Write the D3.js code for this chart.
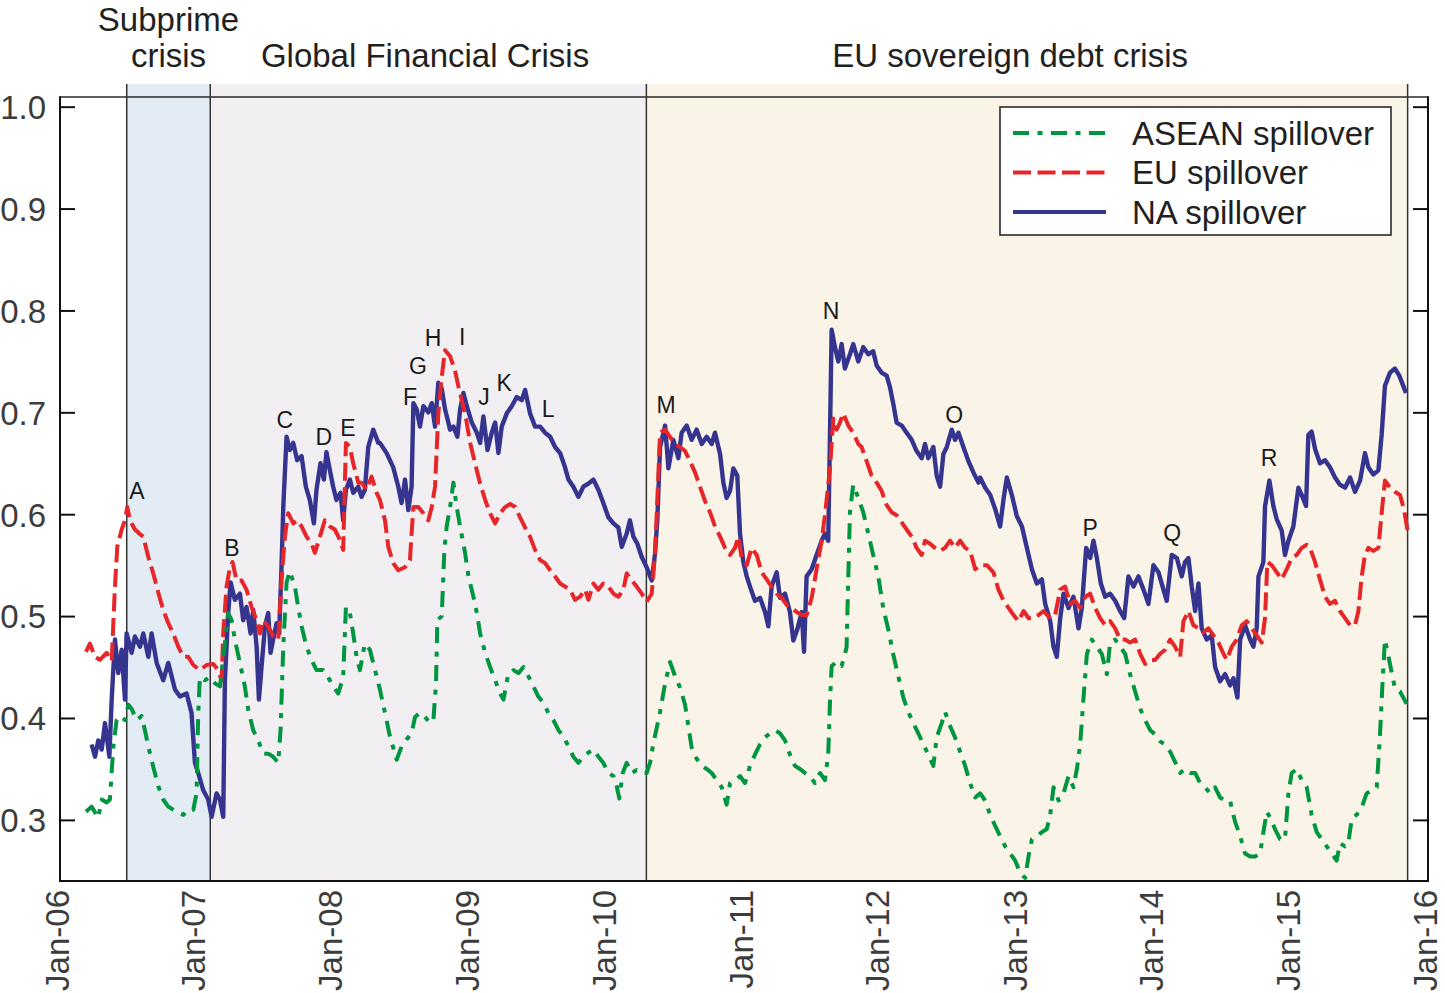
<!DOCTYPE html>
<html><head><meta charset="utf-8">
<script src="https://cdn.jsdelivr.net/npm/d3@7"></script>
<style>
html,body{margin:0;padding:0;background:#fff;}
svg{display:block;font-family:"Liberation Sans",Arial,Helvetica,sans-serif;}
</style></head><body>
<svg id="chart" width="1445" height="993"></svg>
<script>
// ---------------- DATA ----------------
const yTickValues = [0.3, 0.4, 0.5, 0.6, 0.7, 0.8, 0.9, 1.0];
const xTickYears = [2006, 2007, 2008, 2009, 2010, 2011, 2012, 2013, 2014, 2015, 2016];
const seriesNames = ["ASEAN spillover", "EU spillover", "NA spillover"];

// crisis periods (decimal years)
const periodNames = ["Subprime crisis", "Global Financial Crisis", "EU sovereign debt crisis"];
const periodStart = [2006.488, 2007.099, 2010.286];
const periodEnd   = [2007.099, 2010.286, 2015.851];

// event letters: [label, decimal year, value]
const events = [
  ["A",2006.563,0.623],["B",2007.257,0.567],["C",2007.645,0.693],["D",2007.930,0.676],
  ["E",2008.105,0.685],["F",2008.558,0.715],["G",2008.617,0.746],["H",2008.727,0.773],
  ["I",2008.939,0.774],["J",2009.099,0.715],["K",2009.246,0.729],["L",2009.567,0.704],
  ["M",2010.430,0.707],["N",2011.636,0.800],["O",2012.535,0.698],["P",2013.529,0.587],
  ["Q",2014.129,0.582],["R",2014.838,0.655]
];

// NA spillover [decimal year, value]
const naSeries = [
[2006.231,0.374],[2006.256,0.362],[2006.280,0.378],[2006.305,0.369],[2006.329,0.395],[2006.361,0.362],[2006.378,0.418],[2006.402,0.477],[2006.426,0.444],[2006.451,0.467],[2006.475,0.418],[2006.487,0.483],[2006.524,0.464],[2006.548,0.480],[2006.585,0.470],[2006.609,0.483],[2006.646,0.460],[2006.670,0.483],[2006.707,0.454],[2006.755,0.437],[2006.792,0.454],[2006.841,0.428],[2006.877,0.421],[2006.926,0.424],[2006.962,0.405],[2006.987,0.356],[2007.011,0.346],[2007.048,0.329],[2007.084,0.320],[2007.109,0.303],[2007.145,0.326],[2007.170,0.320],[2007.194,0.303],[2007.206,0.437],[2007.230,0.503],[2007.248,0.533],[2007.279,0.516],[2007.316,0.522],[2007.340,0.496],[2007.364,0.509],[2007.394,0.483],[2007.413,0.506],[2007.438,0.470],[2007.455,0.418],[2007.474,0.450],[2007.499,0.490],[2007.523,0.503],[2007.540,0.464],[2007.559,0.477],[2007.584,0.493],[2007.603,0.483],[2007.620,0.548],[2007.633,0.607],[2007.657,0.676],[2007.681,0.663],[2007.706,0.670],[2007.735,0.653],[2007.767,0.657],[2007.798,0.627],[2007.827,0.614],[2007.857,0.591],[2007.876,0.624],[2007.905,0.650],[2007.930,0.634],[2007.949,0.661],[2007.974,0.643],[2007.998,0.627],[2008.022,0.614],[2008.052,0.621],[2008.071,0.594],[2008.091,0.624],[2008.120,0.634],[2008.144,0.621],[2008.181,0.627],[2008.205,0.617],[2008.229,0.624],[2008.254,0.666],[2008.290,0.683],[2008.327,0.670],
[2008.339,0.670],[2008.388,0.660],[2008.436,0.646],[2008.473,0.627],[2008.497,0.611],[2008.522,0.634],[2008.546,0.604],[2008.570,0.627],[2008.583,0.709],[2008.607,0.703],[2008.631,0.686],[2008.656,0.706],[2008.692,0.700],[2008.717,0.709],[2008.741,0.686],[2008.765,0.729],[2008.790,0.723],[2008.814,0.703],[2008.851,0.683],[2008.875,0.686],[2008.904,0.676],[2008.924,0.703],[2008.948,0.719],[2008.973,0.706],[2009.009,0.690],[2009.046,0.680],[2009.070,0.670],[2009.094,0.696],[2009.124,0.663],[2009.155,0.680],[2009.180,0.690],[2009.204,0.660],[2009.228,0.686],[2009.265,0.699],[2009.301,0.706],[2009.338,0.715],[2009.375,0.712],[2009.399,0.722],[2009.435,0.699],[2009.472,0.686],[2009.509,0.686],[2009.545,0.680],[2009.582,0.676],[2009.618,0.666],[2009.655,0.660],[2009.691,0.646],[2009.716,0.634],[2009.752,0.627],[2009.789,0.617],[2009.825,0.627],[2009.862,0.630],[2009.898,0.634],[2009.935,0.624],[2009.971,0.611],[2010.008,0.597],[2010.045,0.591],[2010.081,0.587],[2010.106,0.568],[2010.142,0.581],[2010.166,0.594],[2010.191,0.578],[2010.220,0.571],[2010.252,0.558],[2010.288,0.548],[2010.325,0.535],[2010.349,0.561],[2010.366,0.594],
[2010.386,0.666],[2010.423,0.687],[2010.447,0.645],[2010.483,0.673],[2010.520,0.655],[2010.544,0.680],[2010.581,0.687],[2010.617,0.673],[2010.654,0.683],[2010.691,0.669],[2010.727,0.676],[2010.764,0.669],[2010.788,0.680],[2010.825,0.659],[2010.849,0.631],[2010.873,0.616],[2010.898,0.623],[2010.922,0.645],[2010.951,0.638],[2010.971,0.581],[2010.995,0.553],[2011.020,0.539],[2011.044,0.529],[2011.080,0.515],[2011.117,0.518],[2011.154,0.504],[2011.178,0.490],[2011.202,0.529],[2011.239,0.543],[2011.263,0.518],[2011.300,0.522],[2011.336,0.504],[2011.361,0.476],[2011.390,0.487],[2011.422,0.504],[2011.439,0.465],[2011.458,0.539],[2011.495,0.546],[2011.531,0.560],[2011.568,0.574],[2011.592,0.581],[2011.616,0.574],[2011.629,0.680],[2011.641,0.781],[2011.665,0.764],[2011.690,0.750],[2011.714,0.767],[2011.738,0.743],[2011.775,0.757],[2011.799,0.767],[2011.836,0.750],[2011.872,0.764],[2011.909,0.757],[2011.945,0.760],[2011.970,0.746],[2012.006,0.739],[2012.043,0.736],[2012.067,0.725],[2012.092,0.708],[2012.116,0.690],[2012.153,0.687],[2012.189,0.680],[2012.226,0.673],[2012.262,0.662],[2012.299,0.655],[2012.323,0.669],[2012.347,0.655],[2012.384,0.666],[2012.408,0.638],[2012.433,0.627],[2012.457,0.659],[2012.482,0.666],[2012.518,0.683],[2012.542,0.673],[2012.567,0.680],[2012.603,0.666],[2012.640,0.652],[2012.676,0.641],[2012.713,0.631],
[2012.725,0.636],[2012.762,0.626],[2012.798,0.619],[2012.835,0.605],[2012.871,0.588],[2012.896,0.615],[2012.920,0.636],[2012.956,0.619],[2012.993,0.598],[2013.030,0.588],[2013.066,0.567],[2013.103,0.546],[2013.139,0.532],[2013.176,0.536],[2013.200,0.512],[2013.237,0.495],[2013.261,0.470],[2013.285,0.460],[2013.310,0.498],[2013.334,0.522],[2013.371,0.508],[2013.407,0.519],[2013.444,0.488],[2013.468,0.508],[2013.500,0.567],[2013.529,0.557],[2013.553,0.574],[2013.578,0.557],[2013.607,0.532],[2013.639,0.519],[2013.675,0.522],[2013.712,0.515],[2013.748,0.505],[2013.778,0.498],[2013.809,0.539],[2013.846,0.529],[2013.882,0.539],[2013.919,0.526],[2013.955,0.512],[2013.992,0.550],[2014.029,0.543],[2014.065,0.526],[2014.089,0.515],[2014.126,0.560],[2014.163,0.557],[2014.199,0.539],[2014.223,0.553],[2014.248,0.557],[2014.272,0.529],[2014.297,0.505],[2014.321,0.532],[2014.345,0.488],[2014.382,0.477],[2014.418,0.481],[2014.443,0.450],[2014.479,0.436],[2014.516,0.443],[2014.552,0.432],[2014.577,0.439],[2014.606,0.420],[2014.626,0.477],[2014.662,0.491],[2014.699,0.477],[2014.723,0.470],[2014.747,0.488],[2014.760,0.539],[2014.796,0.553],[2014.808,0.608],[2014.840,0.633],[2014.869,0.608],[2014.894,0.595],[2014.930,0.584],[2014.954,0.560],[2014.979,0.574],[2015.015,0.588],[2015.052,0.626],[2015.076,0.619],[2015.108,0.608],[2015.125,0.678],[2015.149,0.681],[2015.174,0.664],[2015.210,0.650],[2015.247,0.653],[2015.283,0.646],[2015.320,0.636],[2015.356,0.629],[2015.393,0.626],[2015.430,0.636],[2015.466,0.622],[2015.503,0.633],[2015.539,0.660],[2015.564,0.646],[2015.600,0.639],[2015.637,0.643],[2015.661,0.678],[2015.685,0.726],[2015.722,0.739],[2015.758,0.743],[2015.790,0.736],[2015.819,0.726],[2015.839,0.719]
];

// EU spillover [decimal year, value]
const euSeries = [
[2006.190,0.465],[2006.219,0.473],[2006.256,0.460],[2006.292,0.457],[2006.341,0.464],[2006.378,0.456],[2006.402,0.529],[2006.419,0.568],[2006.451,0.585],[2006.475,0.594],[2006.492,0.607],[2006.512,0.594],[2006.548,0.585],[2006.580,0.581],[2006.609,0.578],[2006.646,0.558],[2006.682,0.542],[2006.719,0.523],[2006.755,0.506],[2006.792,0.493],[2006.828,0.483],[2006.865,0.470],[2006.902,0.460],[2006.938,0.460],[2006.975,0.452],[2007.023,0.447],[2007.072,0.452],[2007.121,0.453],[2007.157,0.447],[2007.182,0.437],[2007.194,0.483],[2007.218,0.529],[2007.243,0.548],[2007.262,0.553],[2007.291,0.535],[2007.328,0.535],[2007.364,0.526],[2007.401,0.509],[2007.438,0.496],[2007.462,0.483],[2007.486,0.496],[2007.523,0.490],[2007.559,0.480],[2007.596,0.477],[2007.620,0.535],[2007.645,0.578],[2007.669,0.601],[2007.706,0.591],[2007.735,0.594],[2007.767,0.588],[2007.803,0.578],[2007.840,0.571],[2007.864,0.562],[2007.901,0.578],[2007.937,0.594],[2007.974,0.588],[2008.010,0.585],[2008.047,0.575],[2008.071,0.565],[2008.091,0.670],[2008.120,0.666],[2008.144,0.650],[2008.181,0.631],[2008.205,0.631],[2008.242,0.624],[2008.278,0.637],[2008.315,0.621],
[2008.339,0.614],[2008.376,0.594],[2008.400,0.568],[2008.436,0.552],[2008.473,0.545],[2008.522,0.548],[2008.558,0.555],[2008.570,0.581],[2008.583,0.607],[2008.619,0.607],[2008.656,0.601],[2008.692,0.594],[2008.717,0.607],[2008.741,0.627],[2008.765,0.699],[2008.790,0.735],[2008.814,0.761],[2008.851,0.755],[2008.887,0.741],[2008.912,0.725],[2008.936,0.712],[2008.968,0.693],[2008.997,0.670],[2009.033,0.650],[2009.070,0.630],[2009.107,0.614],[2009.143,0.601],[2009.180,0.591],[2009.216,0.601],[2009.253,0.607],[2009.289,0.610],[2009.326,0.607],[2009.362,0.597],[2009.399,0.587],[2009.435,0.578],[2009.472,0.565],[2009.509,0.555],[2009.545,0.552],[2009.582,0.545],[2009.618,0.539],[2009.655,0.532],[2009.691,0.529],[2009.728,0.526],[2009.764,0.516],[2009.801,0.519],[2009.838,0.526],[2009.862,0.516],[2009.898,0.532],[2009.935,0.526],[2009.971,0.532],[2010.008,0.529],[2010.045,0.522],[2010.081,0.519],[2010.118,0.526],[2010.142,0.542],[2010.179,0.535],[2010.215,0.529],[2010.252,0.522],[2010.288,0.514],[2010.325,0.522],[2010.349,0.561],[2010.366,0.614],
[2010.386,0.680],[2010.423,0.683],[2010.459,0.676],[2010.496,0.669],[2010.532,0.666],[2010.569,0.662],[2010.605,0.652],[2010.642,0.641],[2010.678,0.627],[2010.715,0.613],[2010.751,0.602],[2010.788,0.588],[2010.825,0.578],[2010.861,0.567],[2010.898,0.560],[2010.934,0.567],[2010.959,0.578],[2010.983,0.557],[2011.020,0.550],[2011.056,0.567],[2011.093,0.560],[2011.129,0.543],[2011.166,0.536],[2011.202,0.529],[2011.239,0.522],[2011.275,0.518],[2011.312,0.511],[2011.348,0.508],[2011.385,0.504],[2011.422,0.501],[2011.458,0.501],[2011.495,0.518],[2011.531,0.546],[2011.568,0.574],[2011.592,0.599],[2011.629,0.645],[2011.653,0.694],[2011.677,0.683],[2011.702,0.690],[2011.726,0.699],[2011.763,0.687],[2011.799,0.680],[2011.836,0.669],[2011.860,0.666],[2011.897,0.652],[2011.933,0.638],[2011.970,0.631],[2012.006,0.623],[2012.043,0.609],[2012.079,0.602],[2012.116,0.599],[2012.153,0.592],[2012.189,0.585],[2012.226,0.578],[2012.262,0.567],[2012.299,0.560],[2012.323,0.574],[2012.360,0.571],[2012.396,0.567],[2012.433,0.564],[2012.469,0.567],[2012.506,0.574],[2012.542,0.567],[2012.579,0.574],[2012.616,0.567],[2012.652,0.564],[2012.689,0.546],
[2012.725,0.550],[2012.774,0.550],[2012.822,0.543],[2012.859,0.526],[2012.896,0.515],[2012.932,0.508],[2012.969,0.501],[2013.005,0.495],[2013.042,0.505],[2013.078,0.498],[2013.115,0.498],[2013.151,0.501],[2013.188,0.505],[2013.237,0.498],[2013.273,0.501],[2013.310,0.526],[2013.346,0.529],[2013.383,0.512],[2013.419,0.515],[2013.456,0.508],[2013.493,0.519],[2013.529,0.522],[2013.566,0.508],[2013.602,0.498],[2013.639,0.491],[2013.675,0.495],[2013.712,0.488],[2013.748,0.477],[2013.785,0.477],[2013.821,0.474],[2013.858,0.477],[2013.895,0.463],[2013.931,0.453],[2013.968,0.457],[2014.004,0.457],[2014.041,0.463],[2014.077,0.467],[2014.114,0.477],[2014.150,0.470],[2014.187,0.460],[2014.211,0.495],[2014.248,0.505],[2014.284,0.491],[2014.321,0.488],[2014.358,0.484],[2014.394,0.488],[2014.431,0.481],[2014.467,0.474],[2014.504,0.463],[2014.528,0.457],[2014.565,0.470],[2014.601,0.477],[2014.638,0.491],[2014.674,0.495],[2014.711,0.488],[2014.747,0.481],[2014.784,0.474],[2014.808,0.498],[2014.825,0.553],[2014.857,0.550],[2014.894,0.543],[2014.930,0.536],[2014.967,0.546],[2015.003,0.557],[2015.040,0.560],[2015.076,0.567],[2015.113,0.570],[2015.137,0.567],[2015.174,0.553],[2015.210,0.536],[2015.247,0.519],[2015.283,0.512],[2015.320,0.515],[2015.356,0.505],[2015.393,0.498],[2015.430,0.491],[2015.466,0.491],[2015.491,0.505],[2015.515,0.539],[2015.539,0.560],[2015.564,0.567],[2015.600,0.564],[2015.637,0.567],[2015.661,0.601],[2015.685,0.633],[2015.722,0.626],[2015.758,0.622],[2015.795,0.619],[2015.824,0.605],[2015.851,0.584]
];

// ASEAN spillover [decimal year, value]
const aseanSeries = [
[2006.190,0.308],[2006.231,0.313],[2006.280,0.302],[2006.305,0.320],[2006.341,0.317],[2006.365,0.320],[2006.390,0.372],[2006.414,0.398],[2006.439,0.402],[2006.475,0.398],[2006.500,0.413],[2006.524,0.409],[2006.560,0.398],[2006.597,0.402],[2006.621,0.388],[2006.646,0.372],[2006.682,0.352],[2006.719,0.333],[2006.755,0.320],[2006.792,0.313],[2006.828,0.310],[2006.865,0.307],[2006.902,0.305],[2006.938,0.310],[2006.975,0.310],[2006.999,0.326],[2007.011,0.405],[2007.023,0.440],[2007.060,0.437],[2007.096,0.440],[2007.133,0.434],[2007.170,0.431],[2007.206,0.473],[2007.230,0.503],[2007.255,0.496],[2007.279,0.477],[2007.316,0.454],[2007.352,0.431],[2007.377,0.408],[2007.413,0.388],[2007.450,0.378],[2007.486,0.365],[2007.523,0.365],[2007.559,0.362],[2007.596,0.356],[2007.613,0.388],[2007.633,0.470],[2007.657,0.533],[2007.681,0.544],[2007.718,0.529],[2007.742,0.509],[2007.767,0.490],[2007.803,0.470],[2007.840,0.457],[2007.876,0.447],[2007.925,0.447],[2007.961,0.440],[2007.998,0.431],[2008.035,0.424],[2008.071,0.440],[2008.091,0.509],[2008.120,0.503],[2008.144,0.483],[2008.169,0.460],[2008.193,0.447],[2008.229,0.473],[2008.266,0.467],[2008.303,0.447],
[2008.339,0.428],[2008.376,0.405],[2008.412,0.382],[2008.461,0.359],[2008.497,0.372],[2008.534,0.379],[2008.570,0.385],[2008.595,0.401],[2008.631,0.405],[2008.668,0.401],[2008.704,0.395],[2008.729,0.398],[2008.748,0.434],[2008.758,0.496],[2008.790,0.500],[2008.809,0.565],[2008.826,0.588],[2008.851,0.607],[2008.875,0.631],[2008.899,0.607],[2008.924,0.588],[2008.960,0.562],[2008.985,0.539],[2009.021,0.519],[2009.046,0.503],[2009.070,0.483],[2009.107,0.464],[2009.143,0.450],[2009.180,0.437],[2009.216,0.424],[2009.241,0.418],[2009.277,0.444],[2009.314,0.447],[2009.350,0.444],[2009.387,0.450],[2009.423,0.441],[2009.460,0.431],[2009.496,0.421],[2009.533,0.415],[2009.569,0.405],[2009.606,0.398],[2009.643,0.388],[2009.679,0.382],[2009.716,0.372],[2009.752,0.362],[2009.789,0.356],[2009.825,0.362],[2009.862,0.366],[2009.898,0.369],[2009.935,0.362],[2009.971,0.356],[2010.008,0.346],[2010.045,0.343],[2010.069,0.333],[2010.088,0.321],[2010.113,0.346],[2010.142,0.356],[2010.179,0.346],[2010.215,0.349],[2010.252,0.346],[2010.288,0.346],[2010.313,0.356],[2010.337,0.375],[2010.374,0.398],
[2010.386,0.406],[2010.423,0.434],[2010.459,0.455],[2010.496,0.441],[2010.532,0.430],[2010.569,0.413],[2010.593,0.392],[2010.617,0.371],[2010.654,0.360],[2010.691,0.353],[2010.727,0.350],[2010.764,0.346],[2010.800,0.339],[2010.837,0.332],[2010.873,0.315],[2010.898,0.336],[2010.934,0.339],[2010.971,0.343],[2011.007,0.336],[2011.044,0.353],[2011.080,0.364],[2011.117,0.374],[2011.154,0.381],[2011.190,0.385],[2011.227,0.388],[2011.263,0.385],[2011.300,0.378],[2011.336,0.364],[2011.373,0.353],[2011.409,0.350],[2011.446,0.346],[2011.483,0.343],[2011.519,0.336],[2011.556,0.346],[2011.592,0.339],[2011.616,0.364],[2011.629,0.416],[2011.641,0.451],[2011.677,0.455],[2011.714,0.451],[2011.750,0.469],[2011.763,0.539],[2011.775,0.602],[2011.799,0.629],[2011.836,0.616],[2011.872,0.602],[2011.909,0.581],[2011.945,0.560],[2011.982,0.539],[2012.018,0.508],[2012.055,0.487],[2012.092,0.462],[2012.128,0.441],[2012.165,0.420],[2012.201,0.406],[2012.238,0.395],[2012.274,0.385],[2012.311,0.374],[2012.347,0.364],[2012.384,0.353],[2012.408,0.381],[2012.445,0.395],[2012.469,0.406],[2012.506,0.392],[2012.542,0.381],[2012.579,0.367],[2012.616,0.353],[2012.652,0.336],[2012.689,0.322],
[2012.725,0.326],[2012.762,0.319],[2012.798,0.305],[2012.835,0.294],[2012.871,0.284],[2012.908,0.274],[2012.944,0.267],[2012.981,0.260],[2013.017,0.248],[2013.054,0.243],[2013.078,0.264],[2013.103,0.281],[2013.139,0.284],[2013.176,0.288],[2013.212,0.291],[2013.237,0.305],[2013.261,0.332],[2013.298,0.319],[2013.334,0.326],[2013.371,0.343],[2013.407,0.332],[2013.432,0.350],[2013.456,0.374],[2013.480,0.419],[2013.505,0.463],[2013.541,0.477],[2013.578,0.470],[2013.614,0.463],[2013.651,0.443],[2013.675,0.474],[2013.712,0.477],[2013.748,0.470],[2013.785,0.463],[2013.821,0.443],[2013.858,0.426],[2013.895,0.409],[2013.931,0.398],[2013.968,0.388],[2014.004,0.384],[2014.041,0.377],[2014.077,0.374],[2014.114,0.367],[2014.150,0.357],[2014.187,0.346],[2014.223,0.350],[2014.260,0.346],[2014.297,0.346],[2014.333,0.336],[2014.370,0.332],[2014.406,0.326],[2014.443,0.332],[2014.479,0.322],[2014.516,0.319],[2014.552,0.319],[2014.589,0.298],[2014.626,0.284],[2014.662,0.267],[2014.699,0.264],[2014.735,0.264],[2014.772,0.267],[2014.796,0.288],[2014.821,0.308],[2014.850,0.301],[2014.881,0.291],[2014.918,0.281],[2014.954,0.281],[2014.979,0.326],[2015.003,0.346],[2015.040,0.350],[2015.076,0.339],[2015.113,0.332],[2015.149,0.305],[2015.186,0.288],[2015.223,0.281],[2015.259,0.274],[2015.296,0.267],[2015.332,0.260],[2015.356,0.277],[2015.393,0.274],[2015.417,0.277],[2015.442,0.301],[2015.478,0.305],[2015.515,0.312],[2015.551,0.326],[2015.588,0.329],[2015.625,0.332],[2015.649,0.384],[2015.668,0.436],[2015.685,0.477],[2015.722,0.453],[2015.758,0.429],[2015.795,0.426],[2015.844,0.414]
];

// ---------------- LAYOUT / STYLE ----------------
const W = 1445, H = 993;
const plot = {left: 60, right: 1428, top: 97, bottom: 881, bandTop: 84};
const periodFill = ["#e3ebf5", "#f2eff3", "#faf4e8"];
const periodTitleAt = [null, 2008.668, 2012.944];
const seriesStyle = {
  "ASEAN spillover": {color: "#00953f", width: 4, dash: "16 8.5 5 8.5"},
  "EU spillover":    {color: "#e62628", width: 4, dash: "18 6.5"},
  "NA spillover":    {color: "#35358f", width: 4.4, dash: null}
};
const FONT = '"Liberation Sans", Arial, Helvetica, sans-serif';

function yd(t) {
  const yr = Math.floor(t);
  const a = new Date(yr, 0, 1), b = new Date(yr + 1, 0, 1);
  return new Date(+a + (t - yr) * (b - a));
}

const svg = d3.select("#chart").attr("width", W).attr("height", H)
  .style("font-family", FONT);

const x = d3.scaleTime()
  .domain([new Date(2006, 0, 1), new Date(2016, 0, 1)])
  .range([plot.left, plot.right]);
const y = d3.scaleLinear().domain([0.24, 1.0095]).range([plot.bottom, plot.top]);

// bands
svg.append("g").selectAll("rect").data(periodNames).join("rect")
  .attr("x", (d, i) => x(yd(periodStart[i])))
  .attr("y", plot.bandTop)
  .attr("width", (d, i) => x(yd(periodEnd[i])) - x(yd(periodStart[i])))
  .attr("height", plot.bottom - plot.bandTop)
  .attr("fill", (d, i) => periodFill[i]);

// top border
svg.append("line").attr("x1", plot.left).attr("x2", plot.right)
  .attr("y1", plot.top).attr("y2", plot.top)
  .attr("stroke", "#2a2a2a").attr("stroke-width", 1.6);

// band separators
const sepDates = [periodStart[0], periodStart[1], periodStart[2], periodEnd[2]];
svg.append("g").selectAll("line").data(sepDates).join("line")
  .attr("x1", d => x(yd(d))).attr("x2", d => x(yd(d)))
  .attr("y1", plot.bandTop).attr("y2", plot.bottom)
  .attr("stroke", "#333").attr("stroke-width", 1.5);

// period titles
const titles = svg.append("g").attr("fill", "#231f20").attr("font-size", 33);
titles.append("text").attr("text-anchor", "middle")
  .attr("x", x(yd((periodStart[0] + periodEnd[0]) / 2))).attr("y", 31).text("Subprime");
titles.append("text").attr("text-anchor", "middle")
  .attr("x", x(yd((periodStart[0] + periodEnd[0]) / 2))).attr("y", 67).text("crisis");
titles.append("text").attr("text-anchor", "middle")
  .attr("x", x(yd(periodTitleAt[1]))).attr("y", 67).text(periodNames[1]);
titles.append("text").attr("text-anchor", "middle")
  .attr("x", x(yd(periodTitleAt[2]))).attr("y", 67).text(periodNames[2]);

// lines
const line = d3.line().x(d => x(yd(d[0]))).y(d => y(d[1]));
const seriesData = {"ASEAN spillover": aseanSeries, "EU spillover": euSeries, "NA spillover": naSeries};
["NA spillover", "EU spillover", "ASEAN spillover"].forEach(name => {
  const s = seriesStyle[name];
  svg.append("path").datum(seriesData[name])
    .attr("d", line).attr("fill", "none")
    .attr("stroke", s.color).attr("stroke-width", s.width)
    .attr("stroke-linejoin", "round")
    .attr("stroke-dasharray", s.dash);
});

// event letters
svg.append("g").selectAll("text").data(events).join("text")
  .attr("x", d => x(yd(d[1]))).attr("y", d => y(d[2]))
  .attr("dy", "0.36em").attr("text-anchor", "middle")
  .attr("font-size", 23).attr("fill", "#1a1a1a")
  .text(d => d[0]);

// axes
const yAxisL = d3.axisLeft(y).tickValues(yTickValues).tickSize(-15).tickPadding(14)
  .tickFormat(d3.format(".1f"));
const gL = svg.append("g").attr("transform", `translate(${plot.left},0)`).call(yAxisL);
gL.select(".domain").remove();
gL.selectAll(".tick line").attr("stroke", "#111").attr("stroke-width", 2);
gL.selectAll(".tick text").attr("font-size", 33).attr("fill", "#3c3c3c")
  .attr("font-family", FONT).attr("dy", "0.36em");

const yAxisR = d3.axisRight(y).tickValues(yTickValues).tickSize(-15).tickFormat("");
const gR = svg.append("g").attr("transform", `translate(${plot.right},0)`).call(yAxisR);
gR.select(".domain").remove();
gR.selectAll(".tick line").attr("stroke", "#111").attr("stroke-width", 2);

const xAxis = d3.axisBottom(x).tickValues(xTickYears.map(yr => new Date(yr, 0, 1)))
  .tickSize(0).tickFormat(d3.timeFormat("Jan-%y"));
const gB = svg.append("g").attr("transform", `translate(0,${plot.bottom})`).call(xAxis);
gB.select(".domain").remove();
gB.selectAll(".tick text")
  .attr("transform", "rotate(-90)")
  .attr("text-anchor", "end")
  .attr("x", -9).attr("y", 0).attr("dy", "0.25em")
  .attr("font-size", 33).attr("fill", "#3c3c3c").attr("font-family", FONT);

// frame: left, bottom, right
svg.append("line").attr("x1", plot.left).attr("x2", plot.left)
  .attr("y1", plot.top - 0.8).attr("y2", plot.bottom + 1)
  .attr("stroke", "#111").attr("stroke-width", 2);
svg.append("line").attr("x1", plot.left - 1).attr("x2", plot.right + 1)
  .attr("y1", plot.bottom).attr("y2", plot.bottom)
  .attr("stroke", "#111").attr("stroke-width", 2);
svg.append("line").attr("x1", plot.right).attr("x2", plot.right)
  .attr("y1", plot.top - 0.8).attr("y2", plot.bottom + 1)
  .attr("stroke", "#111").attr("stroke-width", 2);

// legend
const lg = svg.append("g").attr("transform", "translate(1000,107)");
lg.append("rect").attr("width", 391).attr("height", 128)
  .attr("fill", "#fff").attr("stroke", "#2a2a2a").attr("stroke-width", 1.6);
seriesNames.forEach((name, i) => {
  const s = seriesStyle[name];
  const yy = 26 + i * 39.5;
  lg.append("line").attr("x1", 13).attr("x2", 106).attr("y1", yy).attr("y2", yy)
    .attr("stroke", s.color).attr("stroke-width", Math.min(s.width, 4))
    .attr("stroke-dasharray", s.dash);
  lg.append("text").attr("x", 132).attr("y", yy).attr("dy", "0.36em")
    .attr("font-size", 33).attr("fill", "#231f20").text(name);
});
</script>
</body></html>
